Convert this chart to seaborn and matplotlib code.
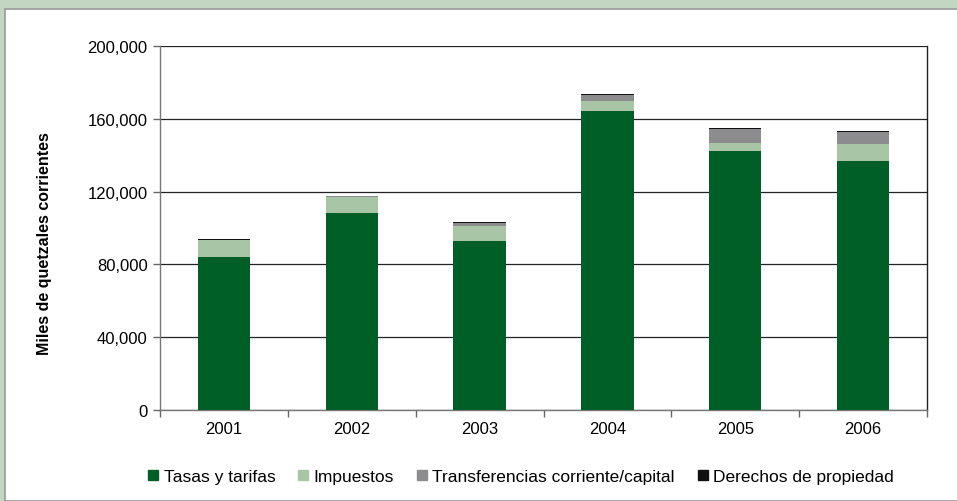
import matplotlib
matplotlib.use("Agg")
import matplotlib.pyplot as plt
from matplotlib.patches import Rectangle
from matplotlib.lines import Line2D
import seaborn as sns
import pandas as pd
import numpy as np

years = ["2001", "2002", "2003", "2004", "2005", "2006"]
tasas = [84000, 108000, 92900, 164400, 142300, 136800]
impuestos = [9500, 8900, 8200, 5200, 4400, 9300]
transferencias = [0, 500, 1600, 3400, 7700, 6600]
derechos = [500, 200, 600, 600, 600, 600]

series_names = ["Tasas y tarifas", "Impuestos", "Transferencias corriente/capital", "Derechos de propiedad"]
series_colors = ["#005f26", "#a8c6a6", "#8c8c8e", "#111111"]
yticks = [0, 40000, 80000, 120000, 160000, 200000]

sns.set_theme(style="white")
plt.rcParams["font.family"] = ["Liberation Sans", "DejaVu Sans"]
plt.rcParams["text.color"] = "black"
plt.rcParams["xtick.labelcolor"] = "black"
plt.rcParams["ytick.labelcolor"] = "black"

df = pd.DataFrame({
    "year": years,
    series_names[0]: tasas,
    series_names[1]: impuestos,
    series_names[2]: transferencias,
    series_names[3]: derechos,
})
cum = df[series_names].cumsum(axis=1)

fig = plt.figure(figsize=(9.57, 5.02), dpi=100)
fig.patch.set_facecolor("#c2d6c1")
# white panel with a thin grey frame, kept behind the axes
panel = Rectangle((5 / 957, 0), 1, 1 - 10 / 502, transform=fig.transFigure,
                  facecolor="white", edgecolor="#9a9a9a", linewidth=1.2, zorder=-5)
fig.patches.append(panel)

ax = fig.add_axes([160 / 957, 1 - 411 / 502, (927 - 160) / 957, (411 - 47) / 502])
ax.set_facecolor("white")

# stacked bars: draw cumulative totals from the top layer down
for name, color in reversed(list(zip(series_names, series_colors))):
    sns.barplot(x=df["year"], y=cum[name], color=color, width=0.41,
                saturation=1, ax=ax, zorder=3, linewidth=0)

ax.set_ylim(0, 200000)
ax.set_xlim(-0.5, 5.5)
ax.set_yticks(yticks)
ax.set_yticklabels([f"{v:,}" for v in yticks], fontsize=12)
ax.yaxis.grid(True, color="#222222", linewidth=0.9, zorder=1)
ax.set_axisbelow(True)
ax.set_xlabel("")
ax.set_ylabel("")

ax.set_xticks(range(len(years)))
ax.set_xticklabels(years, fontsize=12)
ax.tick_params(axis="x", length=0, pad=8, labelcolor="black")
ax.set_xticks(np.arange(-0.5, 6.0, 1.0), minor=True)
ax.tick_params(axis="x", which="minor", length=5, direction="out", color="#666666", width=1, bottom=True)
ax.tick_params(axis="y", length=5, direction="out", color="#666666", width=1, pad=4, left=True,
               labelcolor="black")

for side in ["left", "bottom"]:
    ax.spines[side].set_color("#777777")
    ax.spines[side].set_linewidth(1)
ax.spines["top"].set_visible(False)
ax.spines["right"].set_color("#222222")
ax.spines["right"].set_linewidth(1)

fig.text(45 / 957, 1 - 244 / 502, "Miles de quetzales corrientes", rotation=90,
         ha="center", va="center", fontsize=11.5, fontweight="bold", color="black")

handles = [Line2D([0], [0], marker="s", linestyle="none", markersize=7,
                  markerfacecolor=c, markeredgecolor=c) for c in series_colors]
leg = fig.legend(handles, series_names, loc="center", ncol=4,
                 bbox_to_anchor=(521 / 957, 1 - 477 / 502), frameon=False,
                 fontsize=12.5, handlelength=0.6, handletextpad=0.3, columnspacing=1.3)
for t in leg.get_texts():
    t.set_color("black")

fig.savefig("out.png", dpi=100, facecolor=fig.get_facecolor())
